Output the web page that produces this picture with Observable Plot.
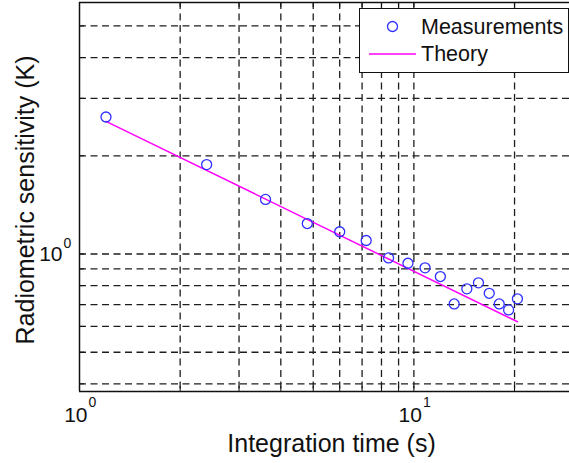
<!DOCTYPE html>
<html>
<head>
<meta charset="utf-8">
<script src="https://cdn.jsdelivr.net/npm/d3@7"></script>
<script src="https://cdn.jsdelivr.net/npm/@observablehq/plot@0.6"></script>
<style>
  html, body { margin: 0; padding: 0; background: #fff; }
  #wrap { position: relative; width: 569px; height: 463px; overflow: hidden; font-family: "Liberation Sans", Arial, sans-serif; }
  #legend { position: absolute; left: 359px; top: 8px; width: 208px; height: 63px; background: #fff; border: 1px solid #111; }
  #legend svg { display: block; }
</style>
</head>
<body>
<div id="wrap"></div>
<script>
// Integration time (s) of each measurement
const times = [1.2, 2.4, 3.6, 4.8, 6.0, 7.2, 8.4, 9.6, 10.8, 12.0, 13.2, 14.4, 15.6, 16.8, 18.0, 19.2, 20.4];
// Measured radiometric sensitivity (K)
const sensitivity = [2.63, 1.88, 1.47, 1.24, 1.17, 1.10, 0.973, 0.937, 0.907, 0.853, 0.703, 0.782, 0.816, 0.758, 0.703, 0.674, 0.729];
// Theoretical curve (straight line on log-log axes)
const theoryTime = [1.2, 20.4];
const theorySensitivity = [2.55, 0.62];

// Axis extents and grid positions
const xDomain = [1, 29.2];
const yDomain = [0.379, 5.9];
const xGrid = [2, 3, 4, 5, 6, 7, 8, 9, 10, 20];
const yGrid = [0.4, 0.5, 0.6, 0.7, 0.8, 0.9, 1, 2, 3, 4, 5];
const xLabelValues = [1, 10];
const xLabelExponents = ["0", "1"];
const yLabelValues = [1];
const yLabelExponents = ["0"];

const measurements = times.map((t, i) => ({t, s: sensitivity[i]}));
const theory = theoryTime.map((t, i) => ({t, s: theorySensitivity[i]}));

const grid = {stroke: "#1e1e1e", strokeWidth: 1.3, strokeDasharray: "7,4.5"};
const ink = "#111";

const chart = Plot.plot({
  width: 569,
  height: 463,
  marginLeft: 79,
  marginRight: 0,
  marginTop: 2,
  marginBottom: 72,
  x: {type: "log", domain: xDomain, axis: null},
  y: {type: "log", domain: yDomain, axis: null},
  style: {fontFamily: "'Liberation Sans', Arial, sans-serif", background: "#fff", color: ink},
  marks: [
    Plot.ruleY(yGrid, grid),
    Plot.ruleX(xGrid, grid),
    // inward tick marks on the bottom, top and left edges
    Plot.tickX(xGrid, {stroke: ink, strokeWidth: 1, insetTop: 384}),
    Plot.tickX(xGrid, {stroke: ink, strokeWidth: 1, insetBottom: 384}),
    Plot.tickY(yGrid, {stroke: ink, strokeWidth: 1, insetRight: 485}),
    // axes box
    Plot.ruleX([xDomain[0]], {stroke: ink, strokeWidth: 1.5}),
    Plot.ruleY([yDomain[0]], {stroke: ink, strokeWidth: 1.5}),
    Plot.ruleY([yDomain[1]], {stroke: ink, strokeWidth: 1.5}),
    // theory and measurements
    Plot.line(theory, {x: "t", y: "s", stroke: "#ff00ff", strokeWidth: 1.5}),
    Plot.dot(measurements, {x: "t", y: "s", r: 5, stroke: "#2f2fff", strokeWidth: 1.3, fill: "none"}),
    // x tick labels (10^n)
    Plot.text(xLabelValues, {x: d => d, frameAnchor: "bottom", text: () => "10", fontSize: 21, textAnchor: "end", lineAnchor: "bottom", dx: 8, dy: 30, fill: ink}),
    Plot.text(xLabelValues, {x: d => d, frameAnchor: "bottom", text: (d, i) => xLabelExponents[i], fontSize: 14, textAnchor: "start", lineAnchor: "bottom", dx: 9, dy: 15, fill: ink}),
    // y tick labels
    Plot.text(yLabelValues, {y: d => d, frameAnchor: "left", text: () => "10", fontSize: 21, textAnchor: "end", lineAnchor: "bottom", dx: -17, dy: 7, fill: ink}),
    Plot.text(yLabelValues, {y: d => d, frameAnchor: "left", text: (d, i) => yLabelExponents[i], fontSize: 14, textAnchor: "start", lineAnchor: "bottom", dx: -16, dy: -6, fill: ink}),
    // axis titles
    Plot.text(["Integration time (s)"], {frameAnchor: "bottom", text: d => d, fontSize: 25, textAnchor: "middle", lineAnchor: "bottom", dx: 7, dy: 60, fill: ink}),
    Plot.text(["Radiometric sensitivity (K)"], {frameAnchor: "left", text: d => d, fontSize: 25, textAnchor: "middle", rotate: -90, lineAnchor: "bottom", dx: -46, dy: 3, fill: ink})
  ]
});

const wrap = document.getElementById("wrap");
wrap.appendChild(chart);

// legend box
const legend = document.createElement("div");
legend.id = "legend";
legend.innerHTML = `
<svg width="208" height="63" font-family="'Liberation Sans', Arial, sans-serif">
  <circle cx="32.5" cy="17.5" r="5" fill="none" stroke="#2f2fff" stroke-width="1.3"></circle>
  <line x1="9" x2="56" y1="45" y2="45" stroke="#ff00ff" stroke-width="1.5"></line>
  <text x="61" y="24.5" font-size="21.5" fill="${ink}">Measurements</text>
  <text x="61" y="52" font-size="21.5" fill="${ink}">Theory</text>
</svg>`;
wrap.appendChild(legend);
</script>
</body>
</html>
